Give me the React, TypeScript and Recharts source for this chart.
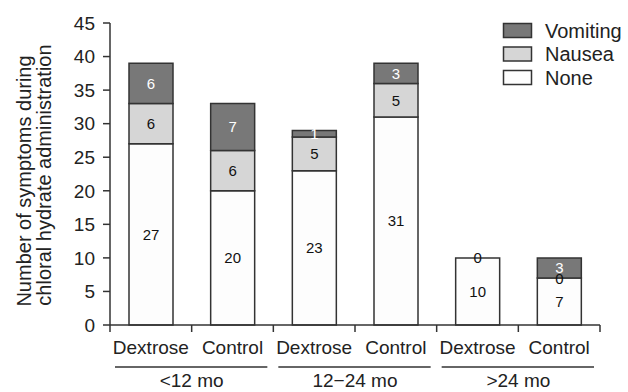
import React from 'react';
import { BarChart, Bar, XAxis, YAxis, LabelList } from 'recharts';

const ARMS = ['Dextrose', 'Control', 'Dextrose', 'Control', 'Dextrose', 'Control'];
const AGE_GROUPS = ['<12 mo', '12\u221224 mo', '>24 mo'];
const NONE = [27, 20, 23, 31, 10, 7];
const NAUSEA = [6, 6, 5, 5, 0, 0];
const VOMITING = [6, 7, 1, 3, 0, 3];
const Y_TICKS = [0, 5, 10, 15, 20, 25, 30, 35, 40, 45];

const W = 628;
const H = 392;
const MARGIN = { top: 23, right: 28, bottom: 0, left: 0 };
const Y_AXIS_W = 110;
const X_AXIS_H = 67;
const BAND = (W - MARGIN.left - MARGIN.right - Y_AXIS_W) / ARMS.length;

const FONT = '"Liberation Sans", Arial, Helvetica, sans-serif';
const INK = '#222';
const EDGE = '#333';

const SERIES = [
  { key: 'none', name: 'None', fill: '#fdfdfd', text: '#111' },
  { key: 'nausea', name: 'Nausea', fill: '#d6d6d6', text: '#111' },
  { key: 'vomiting', name: 'Vomiting', fill: '#787878', text: '#fff' },
];

const data = ARMS.map((arm, i) => ({
  id: `${arm}-${i}`,
  arm,
  none: NONE[i],
  nausea: NAUSEA[i],
  vomiting: VOMITING[i],
}));

const XTick = (props: any) => {
  const { x, y, payload } = props;
  const i = payload.index;
  const half = BAND / 2;
  const g = Math.floor(i / 2);
  return (
    <g>
      <line x1={x - half} x2={x - half} y1={y} y2={y + 7} stroke={EDGE} strokeWidth={1.5} />
      {i === ARMS.length - 1 && (
        <line x1={x + half} x2={x + half} y1={y} y2={y + 7} stroke={EDGE} strokeWidth={1.5} />
      )}
      <text x={x} y={y + 29} textAnchor="middle" fontSize={19} fill={INK} fontFamily={FONT}>
        {ARMS[i]}
      </text>
      {i % 2 === 0 && (
        <>
          <line x1={x - half + 5} x2={x + 3 * half - 6} y1={y + 42} y2={y + 42} stroke={EDGE} strokeWidth={1.5} />
          <text x={x + half} y={y + 62} textAnchor="middle" fontSize={19} fill={INK} fontFamily={FONT}>
            {AGE_GROUPS[g]}
          </text>
        </>
      )}
    </g>
  );
};

// value label in the "none" segment, plus the zero-height nausea label sitting on its top edge
const NoneLabel = (p: any) => {
  const vb = p.viewBox ?? p;
  const { x, y, width, height } = vb;
  const i = p.index;
  const cx = x + width / 2;
  return (
    <g fontFamily={FONT} fontSize={15} fill="#111" textAnchor="middle">
      <text x={cx} y={y + height / 2} dominantBaseline="central">{NONE[i]}</text>
      {NAUSEA[i] === 0 && (
        <text x={cx} y={y} dominantBaseline="central">0</text>
      )}
    </g>
  );
};

const YTitle = () => (
  <g fontSize={20} fill={INK} fontFamily={FONT} textAnchor="middle">
    <text transform="translate(31,181) rotate(-90)">Number of symptoms during</text>
    <text transform="translate(51,175) rotate(-90)">chloral hydrate administration</text>
  </g>
);

const LegendBox = () => (
  <svg
    width={130}
    height={80}
    style={{ position: 'absolute', left: 498, top: 18 }}
    fontFamily={FONT}
    fontSize={20}
  >
    {[...SERIES].reverse().map((s, i) => (
      <g key={s.key} transform={`translate(0, ${i * 23.5})`}>
        <rect x={5.5} y={5.5} width={28} height={14} fill={s.fill} stroke={EDGE} strokeWidth={1.5} />
        <text x={47} y={19.5} fill={INK}>
          {s.name}
        </text>
      </g>
    ))}
  </svg>
);

export default function App() {
  return (
    <div style={{ position: 'absolute', left: 0, top: 0, width: W, height: H, background: '#fff' }}>
      <BarChart width={W} height={H} data={data} margin={MARGIN} barSize={44}>
        <XAxis
          dataKey="id"
          height={X_AXIS_H}
          tickLine={false}
          tickSize={0}
          tickMargin={0}
          axisLine={{ stroke: EDGE, strokeWidth: 1.5 }}
          tick={<XTick />}
          interval={0}
        />
        <YAxis
          width={Y_AXIS_W}
          domain={[0, 45]}
          ticks={Y_TICKS}
          interval={0}
          tickSize={7}
          tickMargin={8}
          axisLine={{ stroke: EDGE, strokeWidth: 1.5 }}
          tickLine={{ stroke: EDGE, strokeWidth: 1.5 }}
          tick={{ fontSize: 19, fill: INK, fontFamily: FONT }}
          label={{ content: () => <YTitle /> }}
        />
        {SERIES.map((s) => (
          <Bar
            key={s.key}
            dataKey={s.key}
            name={s.name}
            stackId="a"
            fill={s.fill}
            stroke={EDGE}
            strokeWidth={1.5}
            isAnimationActive={false}
          >
            {s.key === 'none' ? (
              <LabelList dataKey={s.key} content={NoneLabel} />
            ) : (
              <LabelList dataKey={s.key} position="center" fontSize={15} fill={s.text} fontFamily={FONT} />
            )}
          </Bar>
        ))}
      </BarChart>
      <LegendBox />
    </div>
  );
}
